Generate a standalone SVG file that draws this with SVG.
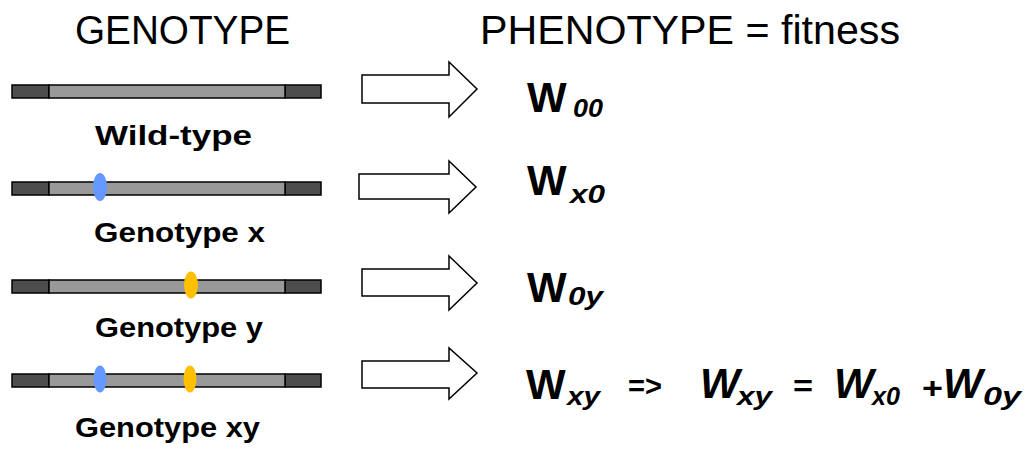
<svg xmlns="http://www.w3.org/2000/svg" width="1027" height="450" viewBox="0 0 1027 450">
<style>
.hdr{font-family:"Liberation Sans",Arial,sans-serif;font-size:40px;fill:#000}
.lbl{font-family:"Liberation Sans",Arial,sans-serif;font-size:27px;font-weight:bold;fill:#000}
.W{font-family:"Liberation Sans",Arial,sans-serif;font-size:42px;font-weight:bold;fill:#000}
.Wi{font-family:"Liberation Sans",Arial,sans-serif;font-size:42px;font-weight:bold;font-style:italic;fill:#000}
.sub{font-family:"Liberation Sans",Arial,sans-serif;font-size:26px;font-weight:bold;font-style:italic;fill:#000}
.op{font-family:"Liberation Sans",Arial,sans-serif;font-size:30px;font-weight:bold;fill:#000}
.end{fill:#4d4d4d;stroke:#000;stroke-width:1.5}
.mid{fill:#999;stroke:#000;stroke-width:1.5}
.bl{fill:#6699ff}
.yl{fill:#ffc000}
.arr{fill:#fff;stroke:#000;stroke-width:1.5;stroke-linejoin:miter}
</style>
<defs>
<g id="chrom">
<rect class="end" x="12" y="0" width="37" height="13"/>
<rect class="end" x="285" y="0" width="36" height="13"/>
<rect class="mid" x="49" y="0" width="236" height="13"/>
</g>
</defs>
<text class="hdr" x="75" y="44" textLength="215" lengthAdjust="spacingAndGlyphs">GENOTYPE</text>
<text class="hdr" x="480" y="44" textLength="420" lengthAdjust="spacingAndGlyphs">PHENOTYPE = fitness</text>

<g id="wildtype">
<use href="#chrom" x="0" y="85"/>
<text class="lbl" x="95" y="145" textLength="157" lengthAdjust="spacingAndGlyphs">Wild-type</text>
</g>
<g id="genotype-x">
<use href="#chrom" x="0" y="182"/>
<ellipse class="bl" cx="100" cy="187" rx="7" ry="14"/>
<text class="lbl" x="94" y="242" textLength="171" lengthAdjust="spacingAndGlyphs">Genotype x</text>
</g>
<g id="genotype-y">
<use href="#chrom" x="0" y="280"/>
<ellipse class="yl" cx="191" cy="285" rx="7" ry="13.5"/>
<text class="lbl" x="95" y="337" textLength="168" lengthAdjust="spacingAndGlyphs">Genotype y</text>
</g>
<g id="genotype-xy">
<use href="#chrom" x="0" y="374"/>
<ellipse class="bl" cx="100" cy="379" rx="6.5" ry="13.5"/>
<ellipse class="yl" cx="190" cy="379" rx="6.5" ry="13.5"/>
<text class="lbl" x="75" y="437" textLength="185" lengthAdjust="spacingAndGlyphs">Genotype xy</text>
</g>

<g id="connectors">
<path class="arr" d="M362,75 H449 V62 L477,89 L449,117 V103 H362 Z"/>
<path class="arr" d="M359,174 H449 V161 L476,187 L449,213 V199 H359 Z"/>
<path class="arr" d="M362,269 H449 V256 L477,283 L449,310 V296 H362 Z"/>
<path class="arr" d="M362,361 H449 V348 L477,373 L449,399 V388 H362 Z"/>
</g>

<g id="w00">
<text class="W" x="527" y="112">W</text>
<text class="sub" x="573" y="117" textLength="30" lengthAdjust="spacingAndGlyphs">00</text>
</g>
<g id="wx0">
<text class="W" x="527" y="195">W</text>
<text class="sub" x="570" y="203" textLength="35" lengthAdjust="spacingAndGlyphs">x0</text>
</g>
<g id="w0y">
<text class="W" x="527" y="302">W</text>
<text class="sub" x="568" y="305" textLength="35" lengthAdjust="spacingAndGlyphs">0y</text>
</g>
<g id="wxy">
<text class="W" x="526" y="399">W</text>
<text class="sub" x="567" y="405" textLength="33" lengthAdjust="spacingAndGlyphs">xy</text>
<text class="op" x="628" y="396" textLength="34" lengthAdjust="spacingAndGlyphs">=&gt;</text>
<text class="Wi" x="700" y="398">W</text>
<text class="sub" x="737" y="405" textLength="35" lengthAdjust="spacingAndGlyphs">xy</text>
<text class="op" x="793" y="396" textLength="20" lengthAdjust="spacingAndGlyphs">=</text>
<text class="Wi" x="834" y="398">W</text>
<text class="sub" x="872" y="405" textLength="28" lengthAdjust="spacingAndGlyphs">x0</text>
<text class="op" x="922" y="398" textLength="21" lengthAdjust="spacingAndGlyphs">+</text>
<text class="Wi" x="943" y="398">W</text>
<text class="sub" x="983" y="405" textLength="38" lengthAdjust="spacingAndGlyphs">0y</text>
</g>
</svg>
